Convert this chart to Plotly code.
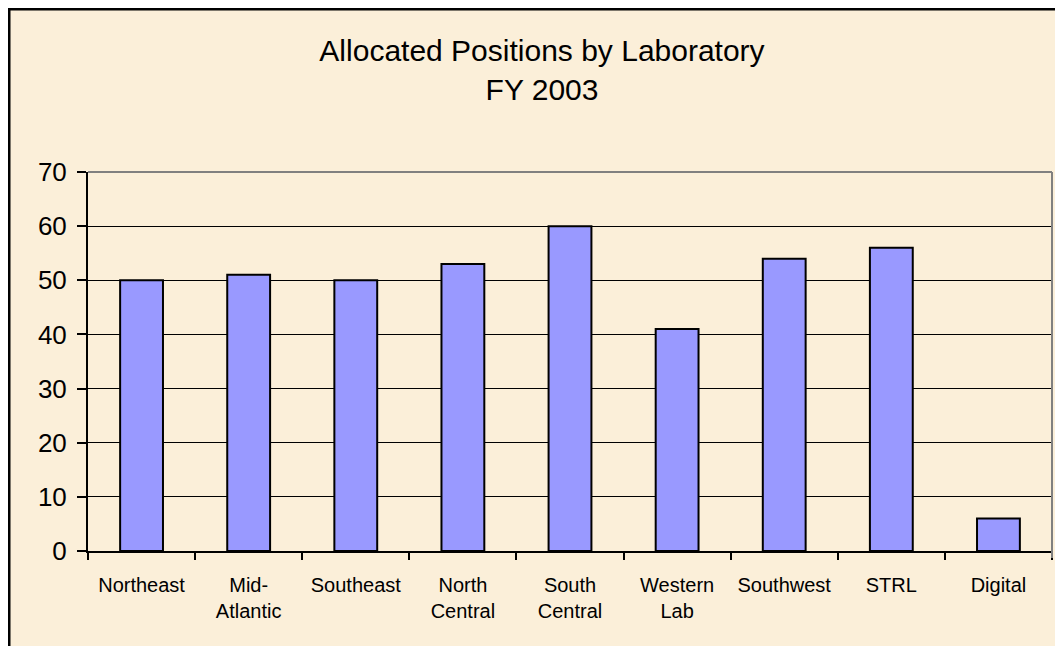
import plotly.graph_objects as go

categories = ["Northeast", "Mid-<br>Atlantic", "Southeast", "North<br>Central", "South<br>Central",
              "Western<br>Lab", "Southwest", "STRL", "Digital"]
positions = [50, 51, 50, 53, 60, 41, 54, 56, 6]
y_ticks = [0, 10, 20, 30, 40, 50, 60, 70]

# page body keeps its default 8px margin, so the figure fills the rest of the window
W, H = 1055, 638
L, R, T, B = 80, 11, 164, 95
pw, ph = W - L - R, H - T - B

def px_x(x):
    return (x - L) / pw

def px_y(y):
    return (H - B - y) / ph

fig = go.Figure(go.Bar(
    x=categories, y=positions,
    marker=dict(color="#9999FF", line=dict(color="black", width=2)),
))

bg = "#FBEFD9"
font = "Liberation Sans, Arial, sans-serif"

fig.update_layout(
    width=W, height=H,
    margin=dict(l=L, r=R, t=T, b=B, pad=0),
    paper_bgcolor=bg, plot_bgcolor=bg,
    bargap=0.6,
    showlegend=False,
    font=dict(family=font, color="black"),
    title=dict(text="Allocated Positions by Laboratory<br>FY 2003",
               x=534 / W, xref="container", xanchor="center",
               y=1 - 53 / H, yref="container", yanchor="top",
               font=dict(size=30, family=font, color="black")),
    xaxis=dict(type="category", tickson="boundaries", ticks="outside", ticklen=7,
               tickwidth=2, tickcolor="black", showline=True, linecolor="black",
               linewidth=2, showgrid=False, tickfont=dict(size=20, family=font),
               ticklabelstandoff=15),
    yaxis=dict(range=[0, 70], tickvals=y_ticks, ticks="outside", ticklen=9, tickwidth=2,
               tickcolor="black", showline=True, linecolor="black", linewidth=2,
               showgrid=True, gridcolor="black", gridwidth=1, zeroline=False,
               tickfont=dict(size=26, family=font), ticklabelstandoff=5),
    shapes=[
        dict(type="line", xref="paper", yref="paper", x0=0, x1=1, y0=1, y1=1,
             line=dict(color="#808080", width=2)),
        dict(type="line", xref="paper", yref="paper", x0=1, x1=1, y0=1, y1=px_y(H - B + 7),
             line=dict(color="#808080", width=2)),
        dict(type="path", xref="paper", yref="paper",
             path=f"M {px_x(1)} {px_y(H + 20)} L {px_x(1)} {px_y(1)} L {px_x(W + 20)} {px_y(1)}",
             line=dict(color="black", width=3)),
    ],
)

fig.write_html("out.html")
